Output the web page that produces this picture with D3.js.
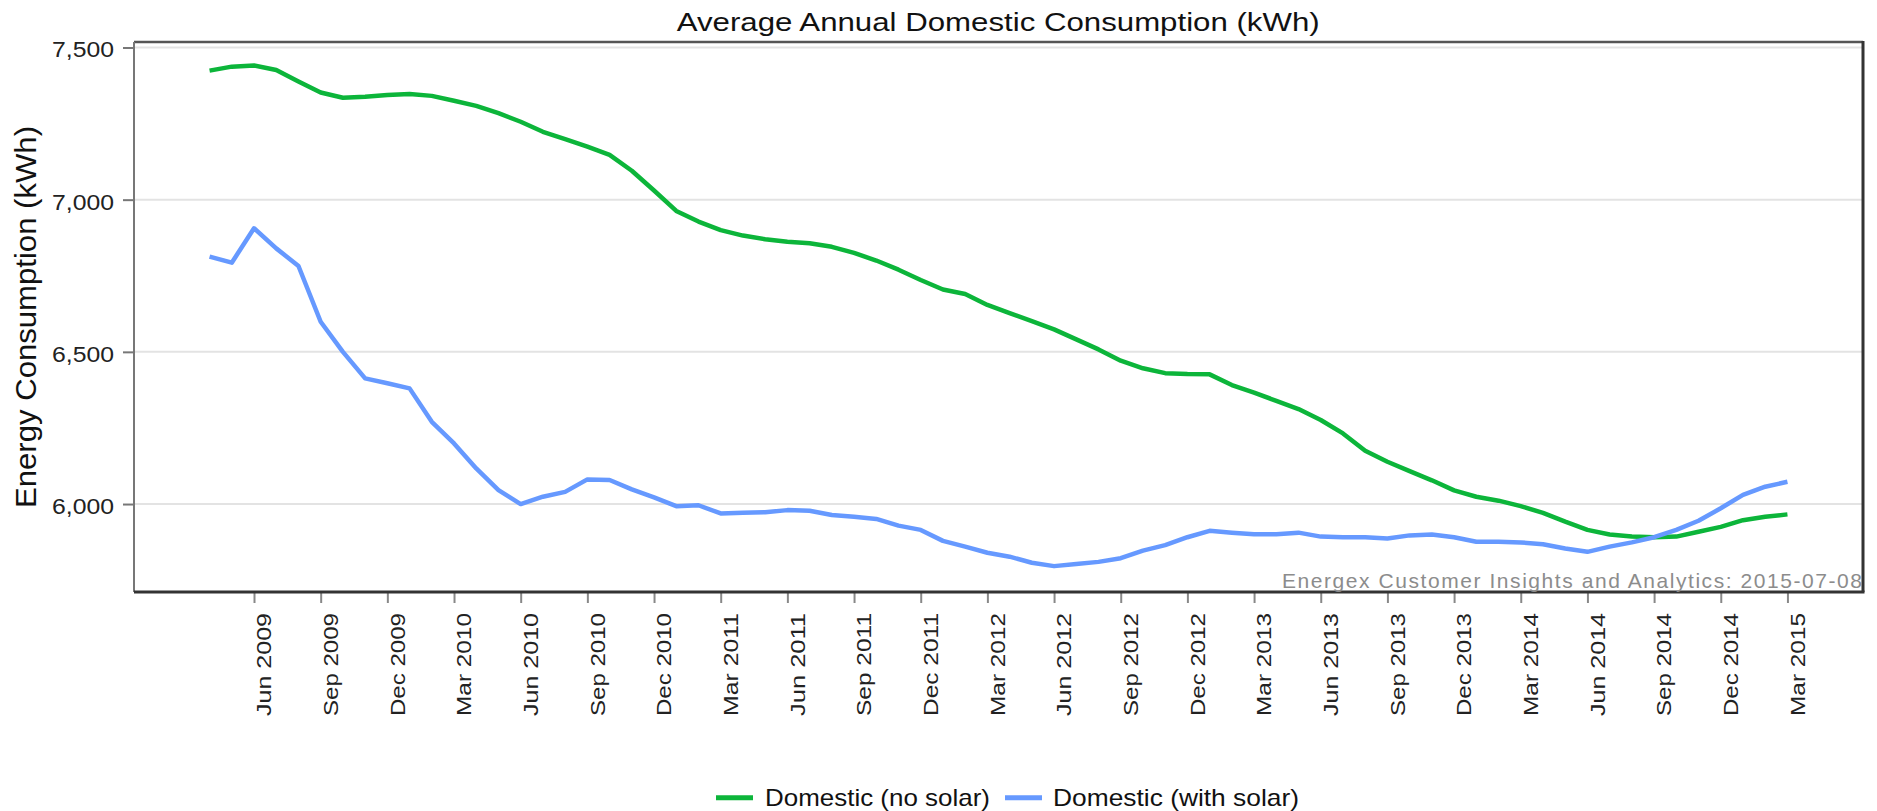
<!DOCTYPE html>
<html><head><meta charset="utf-8">
<script src="https://cdn.jsdelivr.net/npm/d3@7"></script>
<style>
html,body{margin:0;padding:0;background:#fff;}
svg{display:block;font-family:"Liberation Sans",Arial,Helvetica,sans-serif;}
</style>
</head><body>
<svg id="chart" width="1877" height="811"></svg>
<script>
// ---------- data ----------
const months = [
  "Apr 2009","May 2009","Jun 2009","Jul 2009","Aug 2009","Sep 2009","Oct 2009","Nov 2009","Dec 2009",
  "Jan 2010","Feb 2010","Mar 2010","Apr 2010","May 2010","Jun 2010","Jul 2010","Aug 2010","Sep 2010","Oct 2010","Nov 2010","Dec 2010",
  "Jan 2011","Feb 2011","Mar 2011","Apr 2011","May 2011","Jun 2011","Jul 2011","Aug 2011","Sep 2011","Oct 2011","Nov 2011","Dec 2011",
  "Jan 2012","Feb 2012","Mar 2012","Apr 2012","May 2012","Jun 2012","Jul 2012","Aug 2012","Sep 2012","Oct 2012","Nov 2012","Dec 2012",
  "Jan 2013","Feb 2013","Mar 2013","Apr 2013","May 2013","Jun 2013","Jul 2013","Aug 2013","Sep 2013","Oct 2013","Nov 2013","Dec 2013",
  "Jan 2014","Feb 2014","Mar 2014","Apr 2014","May 2014","Jun 2014","Jul 2014","Aug 2014","Sep 2014","Oct 2014","Nov 2014","Dec 2014",
  "Jan 2015","Feb 2015","Mar 2015"
];
const noSolar = [
  7424,7437,7441,7426,7388,7352,7335,7338,7344,
  7347,7341,7325,7308,7284,7256,7223,7199,7174,7147,7095,7030,
  6963,6928,6900,6882,6870,6862,6857,6845,6825,6800,6770,6736,
  6705,6690,6654,6627,6601,6574,6541,6508,6471,6446,6430,6427,
  6426,6391,6366,6339,6312,6276,6232,6175,6139,6108,6078,6045,
  6024,6011,5993,5971,5942,5915,5900,5893,5891,5893,5909,5925,
  5947,5958,5966
];
const withSolar = [
  6813,6793,6906,6840,6782,6599,6500,6413,6397,
  6380,6270,6199,6117,6046,6000,6024,6040,6081,6079,6048,6022,
  5993,5996,5969,5971,5973,5980,5978,5964,5958,5951,5929,5915,
  5879,5860,5840,5827,5807,5796,5803,5810,5822,5847,5865,5891,
  5912,5906,5901,5901,5906,5893,5891,5891,5887,5897,5900,5891,
  5876,5876,5874,5868,5854,5843,5860,5874,5891,5915,5945,5986,
  6030,6057,6073
];
const tickLabels = [
  "Jun 2009","Sep 2009","Dec 2009","Mar 2010","Jun 2010","Sep 2010","Dec 2010",
  "Mar 2011","Jun 2011","Sep 2011","Dec 2011","Mar 2012","Jun 2012","Sep 2012","Dec 2012",
  "Mar 2013","Jun 2013","Sep 2013","Dec 2013","Mar 2014","Jun 2014","Sep 2014","Dec 2014","Mar 2015"
];
const yTicks = [6000, 6500, 7000, 7500];
const seriesNames = ["Domestic (no solar)", "Domestic (with solar)"];
const seriesColors = ["#0cb53a", "#6699ff"];
const titleText = "Average Annual Domestic Consumption (kWh)";
const yTitleText = "Energy Consumption (kWh)";
const creditText = "Energex Customer Insights and Analytics: 2015-07-08";

// ---------- layout ----------
const L = 134, R = 1863, T = 42, B = 592;
const svg = d3.select("#chart");

const x = d3.scalePoint().domain(months).range([L, R]).padding(3.4);
const y = d3.scaleLinear().domain([5711, 7518]).range([B, T]);

// gridlines
svg.append("g").selectAll("line").data(yTicks).join("line")
  .attr("x1", L).attr("x2", R)
  .attr("y1", d => y(d)).attr("y2", d => y(d))
  .attr("stroke", "#e3e3e3").attr("stroke-width", 2);

// y axis
const gy = svg.append("g").attr("transform", `translate(${L},0)`)
  .call(d3.axisLeft(y).tickValues(yTicks).tickFormat(d3.format(",")).tickSize(11).tickPadding(9));
gy.select(".domain").remove();
gy.selectAll(".tick line").attr("stroke", "#777").attr("stroke-width", 2);
gy.selectAll(".tick text")
  .attr("fill", "#222").attr("font-size", 22)
  .attr("font-family", "'Liberation Sans', Arial, sans-serif")
  .attr("dy", "0.43em")
  .attr("textLength", 62).attr("lengthAdjust", "spacingAndGlyphs");

// x axis
const gx = svg.append("g").attr("transform", `translate(0,${B})`)
  .call(d3.axisBottom(x).tickValues(tickLabels).tickSize(11));
gx.select(".domain").remove();
gx.selectAll(".tick line").attr("stroke", "#888").attr("stroke-width", 2);
gx.selectAll(".tick text")
  .attr("fill", "#222").attr("font-size", 21)
  .attr("font-family", "'Liberation Sans', Arial, sans-serif")
  .attr("transform", "rotate(-90)")
  .attr("x", -21).attr("y", 0).attr("dy", "0.8em")
  .style("text-anchor", "end")
  .attr("textLength", 103).attr("lengthAdjust", "spacingAndGlyphs");

// lines
const line = d3.line().x((d, i) => x(months[i])).y(d => y(d));
[noSolar, withSolar].forEach((s, k) => {
  svg.append("path").datum(s)
    .attr("fill", "none")
    .attr("stroke", seriesColors[k])
    .attr("stroke-width", 4.5)
    .attr("stroke-linejoin", "round")
    .attr("stroke-linecap", "butt")
    .attr("d", line);
});

// frame
svg.append("line").attr("x1", L).attr("x2", R).attr("y1", T).attr("y2", T).attr("stroke", "#555").attr("stroke-width", 2.5);
svg.append("line").attr("x1", L).attr("x2", L).attr("y1", T).attr("y2", B).attr("stroke", "#777").attr("stroke-width", 2);
svg.append("line").attr("x1", L).attr("x2", R + 1.5).attr("y1", B).attr("y2", B).attr("stroke", "#333").attr("stroke-width", 3);
svg.append("line").attr("x1", R).attr("x2", R).attr("y1", T - 1).attr("y2", B).attr("stroke", "#333").attr("stroke-width", 3);

// credit
svg.append("text").text(creditText)
  .attr("x", 1282).attr("y", 588)
  .attr("font-size", 21).attr("fill", "#8c8c8c")
  .attr("textLength", 580).attr("lengthAdjust", "spacing");

// title
svg.append("text").text(titleText)
  .attr("x", 676.7).attr("y", 30.5)
  .attr("font-size", 26).attr("fill", "#111")
  .attr("textLength", 643).attr("lengthAdjust", "spacingAndGlyphs");

// y title
svg.append("text").text(yTitleText)
  .attr("transform", "translate(36,317) rotate(-90)")
  .attr("text-anchor", "middle")
  .attr("font-size", 30).attr("fill", "#111")
  .attr("textLength", 382).attr("lengthAdjust", "spacingAndGlyphs");

// legend
const legendItems = [
  { x1: 716, x2: 753, tx: 765, len: 225 },
  { x1: 1005, x2: 1042, tx: 1053, len: 246 }
];
const lg = svg.append("g");
legendItems.forEach((it, k) => {
  lg.append("line").attr("x1", it.x1).attr("x2", it.x2).attr("y1", 797.7).attr("y2", 797.7)
    .attr("stroke", seriesColors[k]).attr("stroke-width", 5);
  lg.append("text").text(seriesNames[k]).attr("x", it.tx).attr("y", 806)
    .attr("font-size", 24).attr("fill", "#111")
    .attr("textLength", it.len).attr("lengthAdjust", "spacingAndGlyphs");
});
</script>
</body></html>
